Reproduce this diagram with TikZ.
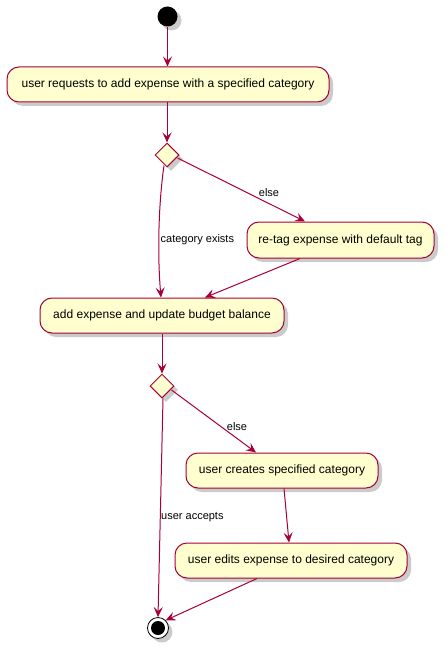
\documentclass[tikz,border=0pt]{standalone}
\usepackage{fontspec}
\setmainfont{Liberation Sans}
\usetikzlibrary{shapes.geometric,arrows.meta,shadows,calc}
\definecolor{umlred}{HTML}{A80036}
\definecolor{umlfill}{HTML}{FEFECE}
\tikzset{
  shd/.style={drop shadow={shadow xshift=4pt,shadow yshift=-4pt,opacity=0.45,fill=black!45}},
  actbox/.style={draw=umlred,fill=umlfill,line width=1pt,rounded corners=12pt,shd,
    minimum height=35pt,inner sep=0pt,font=\fontsize{12}{14}\selectfont},
  decis/.style={diamond,aspect=1,draw=umlred,fill=umlfill,line width=1pt,shd,
    minimum width=24pt,minimum height=24pt,inner sep=0pt},
  flow/.style={draw=umlred,line width=1pt,-{Stealth[length=10pt,width=9pt,inset=4pt]}},
  lbl/.style={font=\fontsize{11}{13}\selectfont,inner sep=0pt}
}
\begin{document}
\begin{tikzpicture}[x=1pt,y=-1pt]
\useasboundingbox (0,0) rectangle (447,650);
\node[circle,fill=black,minimum size=20pt,inner sep=0pt,shd] (start) at (167.5,16.5) {};
\node[actbox,minimum width=322pt] (req) at (168,84.5) {user requests to add expense with a specified category};
\node[decis] (d1) at (167,155) {};
\node[actbox,minimum width=187pt,minimum height=36pt] (retag) at (340.5,240) {re-tag expense with default tag};
\node[actbox,minimum width=244pt] (add) at (162,315.5) {add expense and update budget balance};
\node[decis] (d2) at (162,386) {};
\node[actbox,minimum width=192pt] (create) at (282,470.5) {user creates specified category};
\node[actbox,minimum width=232pt] (edit) at (291,560.5) {user edits expense to desired category};
\node[circle,draw=black,fill=white,line width=0.8pt,minimum size=21pt,inner sep=0pt,shd] (stop) at (158,628) {};
\node[circle,fill=black,minimum size=14pt,inner sep=0pt] (stopin) at (stop.center) {};

\draw[flow] (start) -- (req.north -| start);
\draw[flow] (req.south -| d1) -- (d1.north);
\draw[flow] ($(d1.south)+(-3,-2)$) .. controls (159,200) and (157,250) .. ($(add.north)+(-1,0)$);
\draw[flow] ($(d1.east)+(-2,3)$) -- ($(retag.north)+(-35.5,0)$);
\draw[flow] ($(retag.south)+(-40.5,0)$) -- ($(add.north)+(43,0)$);
\draw[flow] (add.south) -- (d2.north);
\draw[flow] ($(d2.south)+(1,0)$) -- (stop.north);
\draw[flow] ($(d2.east)+(-3,4)$) -- ($(create.north)+(-26,0)$);
\draw[flow] ($(create.south)+(2,0)$) -- ($(edit.north)+(-2,0)$);
\draw[flow] ($(edit.south)+(-34,0)$) -- (stop.north east);

\node[lbl] (l1) at (269,193) {else};
\node[lbl,anchor=west] (l2) at (160.5,240) {category exists};
\node[lbl] (l3) at (237,427) {else};
\node[lbl,anchor=west] (l4) at (161,517) {user accepts};
\end{tikzpicture}
\end{document}
